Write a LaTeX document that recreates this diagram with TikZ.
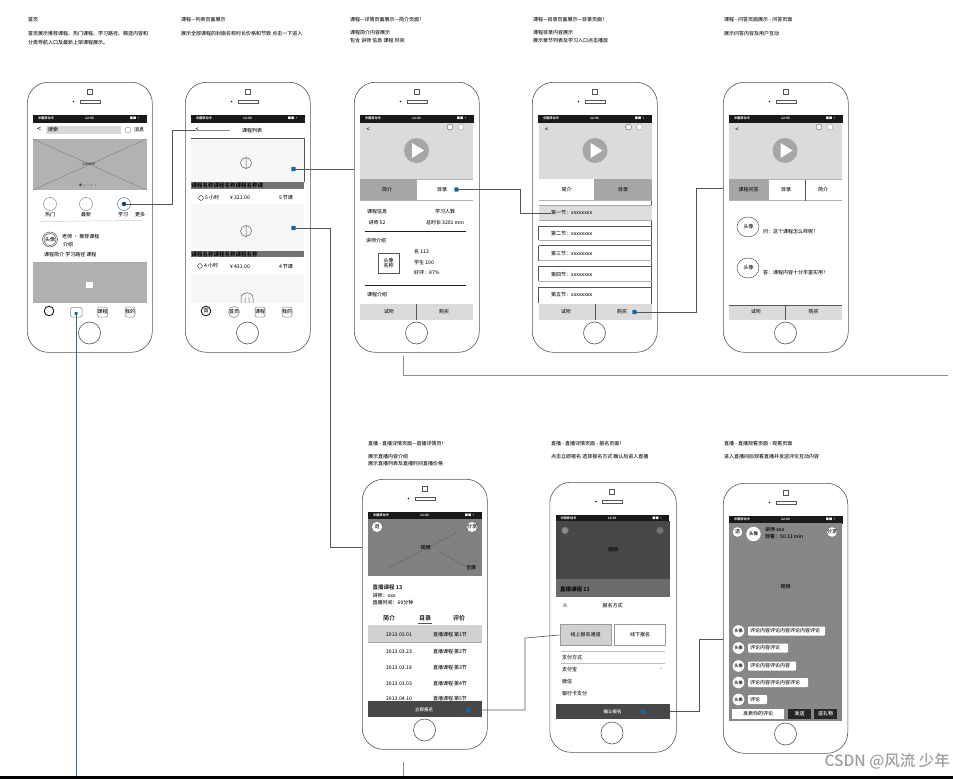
\documentclass[tikz,border=0pt]{standalone}
\usepackage{fontspec}
\setmainfont{Liberation Sans}
\newfontfamily\cjk{Noto Sans CJK SC Medium}
\newfontfamily\cjkb{Noto Sans CJK SC Bold}
\newcount\lblc
\definecolor{linec}{HTML}{555555}
\definecolor{txc}{HTML}{1E1E1E}
\definecolor{dotc}{HTML}{1466A8}
\definecolor{slate}{HTML}{3F6378}
\tikzset{
  tx/.style={inner sep=0pt,text=txc,font=\cjk\fontsize{5}{6}\selectfont},
  txw/.style={inner sep=0pt,text=white,font=\cjk\fontsize{4.5}{5}\selectfont},
  tinyw/.style={inner sep=0pt,text=white,font=\cjkb\fontsize{3.2}{4}\selectfont},
  w/.style={anchor=west},
  phonebody/.style={draw=linec,line width=.6pt,fill=white,rounded corners=21pt,minimum height=270pt,anchor=north west,inner sep=0pt},
  homebtn/.style={circle,draw=linec,line width=.6pt,fill=white,minimum size=22pt,inner sep=0pt},
  bdot/.style={rectangle,rounded corners=.6pt,fill=dotc,minimum size=4.2pt,inner sep=0pt},
  conn/.style={draw=linec,line width=.6pt},
  connl/.style={draw=black!45,line width=.6pt},
}
\newcommand\lbl[4][]{\global\advance\lblc by 1 \node[tx,#1] (t\the\lblc) at (#2,#3) {#4};}
\newcommand\phonefr[4][125]{%
  \node[phonebody,minimum width=#1pt] (p#2) at (#3,#4) {};
  \begin{scope}[shift={(#3,#4)}]
    \draw[linec,line width=.4pt] (60,7.5) rectangle (65,12);
    \fill[txc] (46.5,19.5) circle (.9);
    \draw[linec,line width=.4pt] (53,18) rectangle (73,21);
    \node[homebtn] (h#2) at (62.5,251) {};
    \fill[black!90] (6,33) rectangle (119.5,40.5);
    \lbl[tinyw]{19}{36.7}{中国移动令}
    \lbl[tinyw]{62.5}{36.7}{12:00}
    \lbl[tinyw]{108}{36.7}{■■ ▪}
  \end{scope}}
\newcommand\videohead[3]{% x-center of screen, screen left, screen right
  \fill[black!14] (#2,122.5) rectangle (#3,179);
  \lbl[font=\cjk\fontsize{6}{6}\selectfont]{#2+8}{130}{<}
  \draw[linec,line width=.4pt,fill=white] (#3-23,127) circle (3);
  \draw[black!40,line width=.4pt,fill=white] (#3-12,127) circle (3);
  \fill[black!35] (#1,150.5) circle (12.5);
  \fill[white] (#1-4.5,143) -- (#1+7.5,150.5) -- (#1-4.5,158) -- cycle;}
\begin{document}
\begin{tikzpicture}[x=1pt,y=-1pt]
\useasboundingbox (0,0) rectangle (953,779);
\fill[white] (0,0) rectangle (953,779);
\fill[black] (0,776) rectangle (953,779);

% ---------- captions
\lbl[w]{28}{20}{首页}
\lbl[w]{28}{34}{首页展示推荐课程、热门课程、学习路径、精选内容和}
\lbl[w]{28}{43}{分类导航入口及最新上架课程展示。}
\lbl[w]{181}{20}{课程—列表页面展示}
\lbl[w]{181}{34}{展示全部课程的封面名称时长价格和节数 点击一下进入}
\lbl[w]{350}{20}{课程—详情页面展示—简介页面！}
\lbl[w]{350}{33}{课程简介内容展示}
\lbl[w]{350}{41}{包含 讲师 信息 课程 时间}
\lbl[w]{533}{20}{课程—目录页面展示—目录页面！}
\lbl[w]{533}{33}{课程目录内容展示}
\lbl[w]{533}{41}{展示章节列表及学习入口点击播放}
\lbl[w]{724}{20}{课程 - 问答页面展示 - 问答页面}
\lbl[w]{724}{34}{展示问答内容及用户互动}
\lbl[w]{368}{444}{直播 - 直播详情页面—直播详情页！}
\lbl[w]{368}{457}{展示直播内容介绍}
\lbl[w]{368}{464}{展示直播列表及直播时间直播价格}
\lbl[w]{551}{444}{直播 - 直播详情页面 - 报名页面！}
\lbl[w]{551}{457}{点击立即报名 选择报名方式 确认后进入直播}
\lbl[w]{724}{444}{直播 - 直播观看页面 - 观看页面}
\lbl[w]{724}{457}{进入直播间后观看直播并发送评论互动内容}

% ---------- phone 1
\phonefr{1}{27}{82}
\fill[white] (33,122.5) rectangle (146.5,320);
\lbl[font=\cjk\fontsize{7}{7}\selectfont]{39}{129.5}{<}
\fill[black!15] (46,126) rectangle (121,134);
\lbl[w]{48}{130}{搜索}
\draw[black!50,line width=.4pt] (128,130) circle (3);
\lbl{139}{130}{消息}
\fill[black!30] (33,139) rectangle (146.5,190);
\draw[black!50,line width=.4pt] (33,139) -- (146.5,190) (33,190) -- (146.5,139);
\lbl[font=\fontsize{4.5}{5}\selectfont]{89}{163.5}{Lorem}
\lbl[font=\cjkb\fontsize{3}{3}\selectfont,text=black!70]{88}{185.5}{● ▪ ▪ ▪ ▪}
\draw[linec!70,line width=.5pt] (50,204) circle (6.5) (86,204) circle (6.5);
\draw[dotc!50!gray,line width=.5pt] (124,204) circle (6.5);
\node[circle,fill=dotc!60!black,minimum size=4.4pt,inner sep=0pt] (d1) at (124,204) {};
\lbl{50}{215}{热门}
\lbl{86}{215}{最新}
\lbl{123}{215}{学习}
\lbl{140}{215}{更多}
\draw[black!20,line width=.5pt] (40,221.5) -- (142,220.5);
\draw[linec,line width=.5pt] (50,239.5) circle (7.5) (50,239.5) circle (6);
\lbl{50}{239.5}{头像}
\lbl[w]{62}{237}{老师 · 推荐课程}
\lbl[w]{63}{244.5}{介绍}
\lbl[w]{44}{255}{课程简介 学习路径 课程}
\fill[black!31] (33,262) rectangle (146.5,303);
\fill[white] (85.5,281.5) rectangle (92.5,288);
\draw[txc,line width=.9pt] (49,311) circle (4.8);
\draw[black!50,line width=.5pt,rounded corners=1.5pt] (70.5,307.5) rectangle (82,317);
\node[bdot,minimum size=3pt] (d7) at (76,313.5) {};
\draw[black!50,line width=.5pt,rounded corners=2pt] (97.5,307) rectangle (107.5,317);
\lbl{102.5}{312}{课程}
\draw[black!50,line width=.5pt,rounded corners=2pt] (125,307) rectangle (135,317);
\lbl{130}{312}{我的}

% ---------- phone 2
\phonefr{2}{185}{82}
\fill[white] (191,122.5) rectangle (304,320);
\lbl[font=\cjk\fontsize{6}{6}\selectfont]{197}{130}{<}
\coordinate (back) at (195.5,130);
\draw[black!45,line width=.5pt] (197,130.5) -- (230,130.5);
\lbl{252}{130.5}{课程列表}
\draw[linec,line width=.5pt] (191,138) -- (304,138);
\fill[black!3] (191,139) rectangle (304,182);
\draw[linec,line width=.4pt] (304,138) -- (304,182);
\draw[linec,line width=.5pt] (246,163) circle (5.5) (246,157.5) -- (246,168.5);
\node[bdot] (d2) at (293.5,169) {};
\fill[black!55] (191,182) rectangle (304,189);
\lbl[w,font=\cjkb\fontsize{5.5}{6}\selectfont,text=black]{191.5}{185.5}{课程名称课程名称课程名称课}
\draw[txc,line width=.4pt] (201,198) circle (2.4);
\lbl[w]{205}{198}{5 小时}
\lbl{240}{198}{¥ 321.00}
\lbl{286}{198}{5 节课}
\fill[black!3] (191,204) rectangle (304,251);
\draw[linec,line width=.5pt] (246,231) circle (5.5) (246,225.5) -- (246,236.5);
\node[bdot] (d3) at (293.5,228) {};
\fill[black!55] (191,251) rectangle (304,257);
\lbl[w,font=\cjkb\fontsize{5.5}{6}\selectfont,text=black]{191.5}{254}{课程名称课程名称课程名称}
\draw[txc,line width=.4pt] (200,266) circle (2.4);
\lbl[w]{204}{266}{4 小时}
\lbl{240}{267}{¥ 431.00}
\lbl{286}{267}{4 节课}
\fill[black!3] (191,274) rectangle (304,303);
\draw[linec,line width=.5pt] (241,303) -- (241,298) .. controls (241,291) and (253,291) .. (253,298) -- (253,303) (245,303) -- (245,297) (249,303) -- (249,297);
\fill[white] (191,303) rectangle (304,320);
\draw[txc,line width=.9pt] (206,311) circle (4.8);
\lbl{206}{311}{首}
\draw[black!50,line width=.5pt] (234,312) circle (5.5);
\lbl{234}{312}{首页}
\draw[black!50,line width=.5pt,rounded corners=2pt] (255,307) rectangle (265,317);
\lbl{260}{312}{课程}
\draw[black!50,line width=.5pt,rounded corners=2pt] (282,307) rectangle (292,317);
\lbl{287}{312}{我的}

% ---------- phone 3
\phonefr{3}{354}{82}
\fill[white] (360,122.5) rectangle (473,320);
\videohead{416.5}{360}{473}
\fill[black!35] (360,179) rectangle (417,200);
\lbl{387}{189.5}{简介}
\lbl{442}{189.5}{目录}
\node[bdot] (d4) at (456.5,189.5) {};
\draw[black!30,line width=.5pt] (417,179) -- (473,179) (360,200) -- (473,200);
\lbl{377}{212}{课程信息}
\lbl{445}{212}{学习人数}
\lbl{377}{223}{讲师 52}
\lbl{445}{223}{总时长 3201 min}
\draw[txc,line width=.5pt] (365,231) -- (466,231);
\lbl{376}{241}{讲师介绍}
\draw[linec,line width=.6pt] (378,253) rectangle (399,273);
\node[inner sep=0pt,align=center,text=txc,font=\cjk\fontsize{5}{5.5}\selectfont] (tb3) at (388.5,263) {头像\\名称};
\lbl[w]{414}{252}{名 112}
\lbl[w]{414}{263}{学生 100}
\lbl[w]{414}{273}{好评：87\%}
\draw[txc,line width=.5pt] (365,285) -- (466,285);
\lbl{377}{295}{课程介绍}
\fill[black!14] (360,303.5) rectangle (473,320);
\draw[linec,line width=.5pt] (416.5,303.5) -- (416.5,320);
\lbl{389}{312}{试听}
\lbl{444}{312}{购买}

% ---------- phone 4
\phonefr{4}{532}{82}
\fill[white] (538.5,122.5) rectangle (651.5,320);
\videohead{595}{538.5}{651.5}
\fill[black!35] (594,179) rectangle (651.5,200);
\lbl{566.5}{189.5}{简介}
\lbl{623}{189.5}{目录}
\draw[black!30,line width=.5pt] (538.5,200.5) -- (651.5,200.5);
\draw[linec,line width=.5pt] (651.5,200.5) -- (651.5,320);
\fill[black!13] (538.5,205.5) rectangle (651.5,220);
\draw[black!35,line width=.4pt] (538.5,205.5) -- (651.5,205.5) (538.5,220) -- (651.5,220);
\node[tx,w] (r41) at (551,213) {第一节：xxxxxxxx};
\draw[linec,line width=.4pt] (538.5,226) -- (651.5,226) (538.5,226) -- (538.5,240);
\draw[black!30,line width=.4pt] (538.5,240) -- (651.5,240);
\lbl[w]{551}{233.5}{第二节：xxxxxxxx}
\draw[linec,line width=.4pt] (538.5,245.5) -- (651.5,245.5) (538.5,245.5) -- (538.5,260.5);
\draw[black!30,line width=.4pt] (538.5,260.5) -- (651.5,260.5);
\lbl[w]{551}{254}{第三节：xxxxxxxx}
\draw[linec,line width=.4pt] (538.5,266) -- (651.5,266) (538.5,266) -- (538.5,281);
\draw[black!30,line width=.4pt] (538.5,281) -- (651.5,281);
\lbl[w]{551}{274.5}{第四节：xxxxxxxx}
\draw[linec,line width=.4pt] (538.5,287) -- (651.5,287) (538.5,287) -- (538.5,303);
\lbl[w]{551}{295}{第五节：xxxxxxxx}
\fill[black!14] (538.5,303.5) rectangle (651.5,320);
\draw[linec,line width=.5pt] (595,303.5) -- (595,320);
\lbl{566}{312}{试听}
\lbl{622}{312}{购买}
\node[bdot] (d5) at (634.5,312) {};

% ---------- phone 5
\phonefr{5}{723}{82}
\fill[white] (729,122.5) rectangle (842,320);
\videohead{785}{729}{842}
\draw[black!30,line width=.5pt] (729,179.5) -- (842,179.5) (729,200.5) -- (842,200.5);
\fill[black!35] (729,179) rectangle (768.5,200);
\draw[linec,line width=.5pt] (805.5,179.5) -- (805.5,200.5);
\lbl{748.5}{190}{课程问答}
\lbl{786}{190}{目录}
\lbl{823}{190}{简介}
\draw[linec,line width=.5pt] (748,227) ellipse (11 and 10) (748,268) ellipse (11 and 10);
\lbl{748.5}{227}{头像}
\lbl{748.5}{268}{头像}
\lbl[w]{763}{232}{问：这个课程怎么样呢！}
\lbl[w]{763}{273}{答：课程内容十分丰富实用！}
\fill[black!14] (729,305) rectangle (842,320);
\draw[linec,line width=.5pt] (729,305) -- (842,305) (785,305) -- (785,320);
\lbl{756}{312}{试听}
\lbl{813.5}{312}{购买}

% ---------- phone 6
\phonefr{6}{362}{479}
\fill[white] (368,519) rectangle (482,717);
\fill[black!50] (368,519) rectangle (482,576);
\draw[black!60,line width=.4pt] (388,568) -- (458,532) (440,552) -- (465,566);
\fill[white] (377,527) circle (5);
\fill[white] (472,527) circle (5);
\lbl{377}{527}{退}
\lbl{472}{527}{分享}
\lbl[text=black]{425.5}{547.5}{视频}
\lbl[text=black]{471}{567.5}{全屏}
\lbl[w,font=\cjkb\fontsize{5.5}{6}\selectfont]{372.5}{587}{直播课程 13}
\lbl[w]{372.5}{596}{讲师：xxx}
\lbl[w]{372.5}{602.5}{直播时间：60分钟}
\lbl[font=\cjkb\fontsize{6}{6}\selectfont]{389}{618}{简介}
\lbl[font=\cjkb\fontsize{6}{6}\selectfont]{425}{618}{目录}
\lbl[font=\cjkb\fontsize{6}{6}\selectfont]{459}{618}{评价}
\draw[linec,line width=.5pt] (418,623.5) -- (432,623.5);
\fill[black!18] (368,624.5) rectangle (482,642);
\draw[black!35,line width=.4pt] (368,642.5) -- (482,642.5);
\lbl{399}{634.5}{2013.03.01}
\lbl{450}{634.5}{直播课程 第1节}
\lbl{399}{651.5}{2013.03.23}
\lbl{450}{651.5}{直播课程 第2节}
\lbl{399}{667.5}{2013.03.18}
\lbl{450}{667.5}{直播课程 第3节}
\lbl{399}{684}{2013.03.03}
\lbl{450}{684}{直播课程 第4节}
\lbl{399}{699}{2013.04.10}
\lbl{450}{699}{直播课程 第5节}
\fill[black!72] (368,701) rectangle (482,717);
\lbl[txw]{424}{709.5}{立即报名}
\node[bdot] (d6) at (468.5,710.5) {};
\coordinate (d6r) at (482,710);

% ---------- phone 7
\phonefr[126.5]{7}{549.5}{482}
\fill[white] (556,521) rectangle (669.5,719);
\fill[black!72] (556,521) rectangle (669.5,579);
\draw[black!60!white,fill=black!45,line width=.5pt] (565,530.5) circle (3.5);
\draw[black!60!white,fill=black!55,line width=.5pt] (660,530.5) circle (3.5);
\lbl[text=black]{613}{550}{视频}
\fill[black!58] (556,579) rectangle (669.5,597);
\lbl[w,font=\cjkb\fontsize{5.5}{6}\selectfont,text=black]{560}{589}{直播课程 11}
\lbl[text=black!50]{565}{606}{关}
\lbl{612.5}{606}{报名方式}
\node[draw=black!40,fill=black!18,line width=.6pt,minimum width=51pt,minimum height=21pt,inner sep=0pt,text=txc,font=\cjk\fontsize{5}{6}\selectfont] (b71) at (585.5,635) {线上报名通道};
\node[draw=black!40,fill=white,line width=.6pt,minimum width=51pt,minimum height=21pt,inner sep=0pt,text=txc,font=\cjk\fontsize{5}{6}\selectfont] (b72) at (640,635) {线下报名};
\draw[black!25,line width=.4pt] (561,651) -- (665,651) (561,663.5) -- (665,663.5);
\lbl[w]{562}{658}{支付方式}
\lbl[w]{562}{670}{支付宝}
\lbl{661}{670}{-}
\lbl[w]{562}{682}{微信}
\lbl[w]{562}{694}{银行卡支付}
\fill[black!72] (556,704) rectangle (669.5,719);
\lbl[txw]{612.5}{712}{确认报名}
\node[bdot] (d8) at (643,711.5) {};
\coordinate (d8r) at (669.5,711);

% ---------- phone 8
\phonefr[124.5]{8}{723}{483}
\fill[black!47] (729,523) rectangle (842,721);
\fill[white] (737.5,532) circle (4.8);
\fill[white] (753.5,534) circle (7.2);
\lbl{737.5}{532}{退}
\lbl[font=\cjkb\fontsize{4.5}{5}\selectfont]{753.5}{534}{头像}
\lbl[w,text=black]{765}{530}{讲师 xxx}
\lbl[w,text=black]{765}{537}{观看：50  13 min}
\fill[white] (832,532) circle (4.8);
\lbl{832}{532}{分享}
\lbl[text=black]{785.5}{587}{视频}
\foreach \yy/\xe/\i/\tt in {631/825/1/评论内容评论内容评论内容评论,648/788/2/评论内容评论,666/796/3/评论内容评论内容,682.5/808/4/评论内容评论内容评论,699.5/767/5/评论}{
  \fill[white] (738.5,\yy) circle (5.8);
  \node[inner sep=0pt,text=txc,font=\cjkb\fontsize{4.2}{5}\selectfont] (av\i) at (738.5,\yy) {头像};
  \fill[white,rounded corners=1pt] (748,\yy-4.5) rectangle (\xe,\yy+4.5);
  \node[anchor=west,inner sep=0pt,text=txc,font=\cjk\fontsize{5}{6}\selectfont] (cm\i) at (750,\yy) {\tt};
}
\node[fill=white,inner sep=0pt,minimum width=52pt,minimum height=10pt,anchor=west,text=txc,font=\cjk\fontsize{5}{6}\selectfont] (in8) at (732,714) {发表你的评论};
\node[fill=black!85,inner sep=0pt,minimum width=23pt,minimum height=10pt,text=white,font=\cjk\fontsize{5}{6}\selectfont] (s81) at (799.5,714) {发送};
\node[fill=black!85,inner sep=0pt,minimum width=23pt,minimum height=10pt,text=white,font=\cjk\fontsize{5}{6}\selectfont] (s82) at (825.5,714) {送礼物};

% ---------- connectors
\coordinate (c1) at (172.5,130);
\draw[conn] (d1.center) -- (d1.center -| c1) -- (c1) -- (back);
\draw[conn] (d2.center) -- (d2.center -| p3.west);
\coordinate (c3) at (330,547);
\draw[conn] (d3.center) -- (d3.center -| c3) -- (c3) -- (c3 -| p6.west);
\coordinate (c4) at (520,213);
\draw[conn] (d4.center) -- (d4.center -| c4) -- (c4) -- (r41.west);
\coordinate (c5) at (696.5,188);
\draw[conn] (d5.center) -- (d5.center -| c5) -- (c5) -- (c5 -| p5.west);
\coordinate (c8) at (525,638);
\draw[conn] (d6r) -- (d6r -| c8) -- (c8) -- (b71.west);
\coordinate (c9) at (699,639);
\draw[conn] (d8r) -- (d8r -| c9) -- (c9) -- (c9 -| p8.west);
\coordinate (e1) at (403,356);
\coordinate (e2) at (403,375);
\coordinate (e3) at (948,375);
\draw[connl] (e1) -- (e2) -- (e3);
\coordinate (e4) at (403,762);
\coordinate (e5) at (403,776);
\draw[connl] (e4) -- (e5);
\coordinate (e6) at (76,776);
\draw[draw=slate,line width=.8pt] (d7.center) -- (e6);

% ---------- watermark
\node[anchor=east,inner sep=0pt,text=black!38,font=\cjk\fontsize{15.5}{16}\selectfont] (wm) at (950,761) {CSDN @风流 少年};
\end{tikzpicture}
\end{document}
